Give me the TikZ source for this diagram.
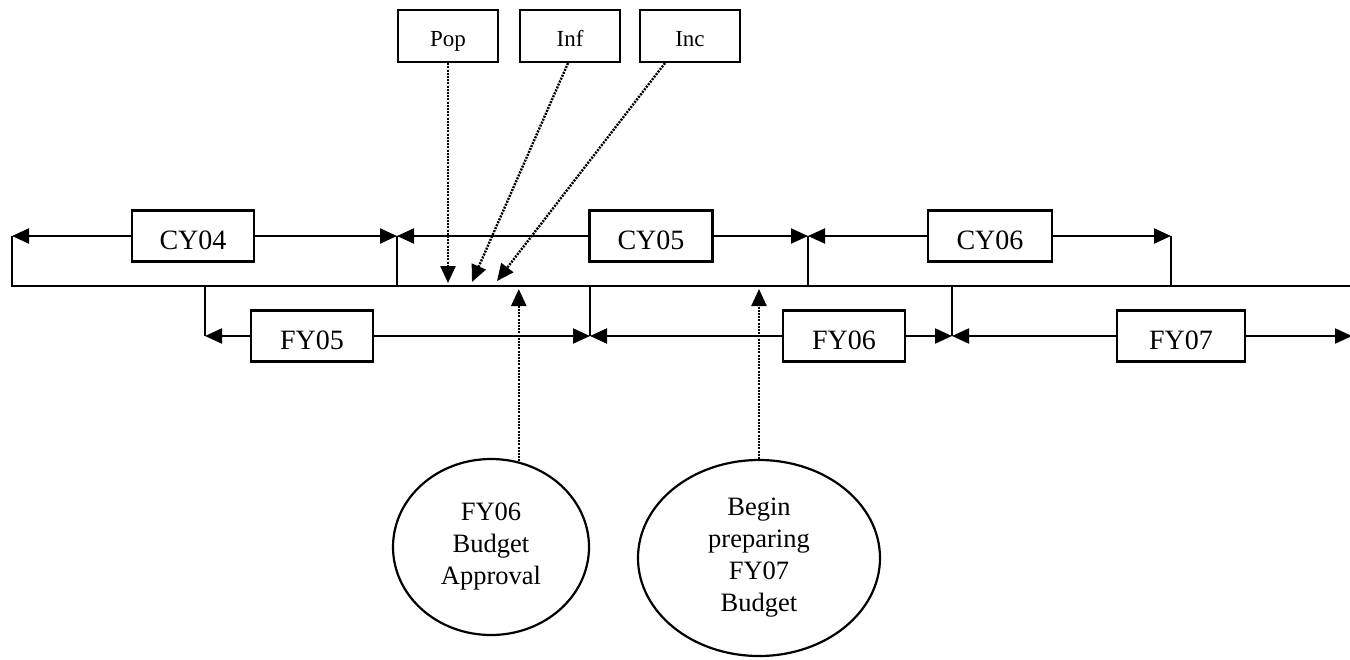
\documentclass[tikz,border=0pt]{standalone}
\usepackage{fontspec}
\setmainfont{Liberation Serif}
\usetikzlibrary{arrows.meta,shapes.geometric,calc}
\begin{document}
\begin{tikzpicture}[x=1pt,y=-1pt,
  line width=2.2pt,
  box/.style={draw, rectangle, minimum height=51pt, inner sep=0pt, text height=27pt, text depth=0pt, font=\fontsize{28}{32}\selectfont},
  vbox/.style={draw, rectangle, minimum width=100pt, minimum height=52pt, inner sep=0pt, text height=20pt, text depth=0pt, font=\fontsize{23}{28}\selectfont},
  event/.style={draw, ellipse, inner sep=0pt, align=center, font=\fontsize{26.5}{32}\selectfont},
  tip/.style={-{Triangle[length=17pt,width=15pt]}},
  dotarrow/.style={tip, dash pattern=on 2pt off 1.2pt, line width=2.4pt},
]
\fill[white] (0,0) rectangle (1350,659);
\useasboundingbox (0,0) rectangle (1350,659);

\node[box, minimum width=122pt] (cy04) at (193,236) {CY04};
\node[box, minimum width=123pt] (cy05) at (651,236) {CY05};
\node[box, minimum width=124pt] (cy06) at (990,236) {CY06};
\node[box, minimum width=122pt] (fy05) at (312,336) {FY05};
\node[box, minimum width=122pt] (fy06) at (844,336) {FY06};
\node[box, minimum width=128pt] (fy07) at (1181,336) {FY07};
\node[vbox] (pop) at (448,36) {Pop};
\node[vbox] (inf) at (570,36) {Inf};
\node[vbox] (inc) at (690,36) {Inc};
\node[event, minimum width=196pt, minimum height=176pt] (c1) at (491,547) {FY06\\Budget\\Approval};
\node[event, minimum width=242pt, minimum height=196pt] (c2) at (759,558) {Begin\\preparing\\FY07\\Budget};

\coordinate (l0) at (12,236);
\coordinate (j1) at (397,236);
\coordinate (j2) at (808,236);
\coordinate (j3) at (1171,236);
\coordinate (m0) at (12,286);
\coordinate (mE) at (1350,286);
\coordinate (f0) at (205,336);
\coordinate (f1) at (590,336);
\coordinate (f2) at (952,336);
\coordinate (fE) at (1352,336);
\coordinate (pe) at (448,283);
\coordinate (ie) at (472,282);
\coordinate (ce) at (497,281);
\coordinate (u) at (0,289);

% calendar year line
\draw[tip] (cy04) -- (l0);
\draw[tip] (cy04) -- (j1);
\draw[tip] (cy05) -- (j1);
\draw[tip] (cy05) -- (j2);
\draw[tip] (cy06) -- (j2);
\draw[tip] (cy06) -- (j3);
\draw (l0) -- (m0) -- (mE);
\draw (j1) -- (j1 |- m0);
\draw (j2) -- (j2 |- m0);
\draw (j3) -- (j3 |- m0);

% fiscal year line
\draw (f0 |- m0) -- (f0);
\draw (f1 |- m0) -- (f1);
\draw (f2 |- m0) -- (f2);
\draw[tip] (fy05) -- (f0);
\draw[tip] (fy05) -- (f1);
\draw[tip] (fy06) -- (f1);
\draw[tip] (fy06) -- (f2);
\draw[tip] (fy07) -- (f2);
\draw[tip] (fy07) -- (fE);

% factor arrows
\draw[dotarrow] (pop.south) -- (pe);
\draw[dotarrow] ($(inf.south)+(-2,0)$) -- (ie);
\draw[dotarrow] ($(inc.south)+(-25,0)$) -- (ce);

% event arrows
\draw[dotarrow] (c1.72) -- (c1.72 |- u);
\draw[dotarrow] (c2.north) -- (c2.north |- u);
\end{tikzpicture}
\end{document}
